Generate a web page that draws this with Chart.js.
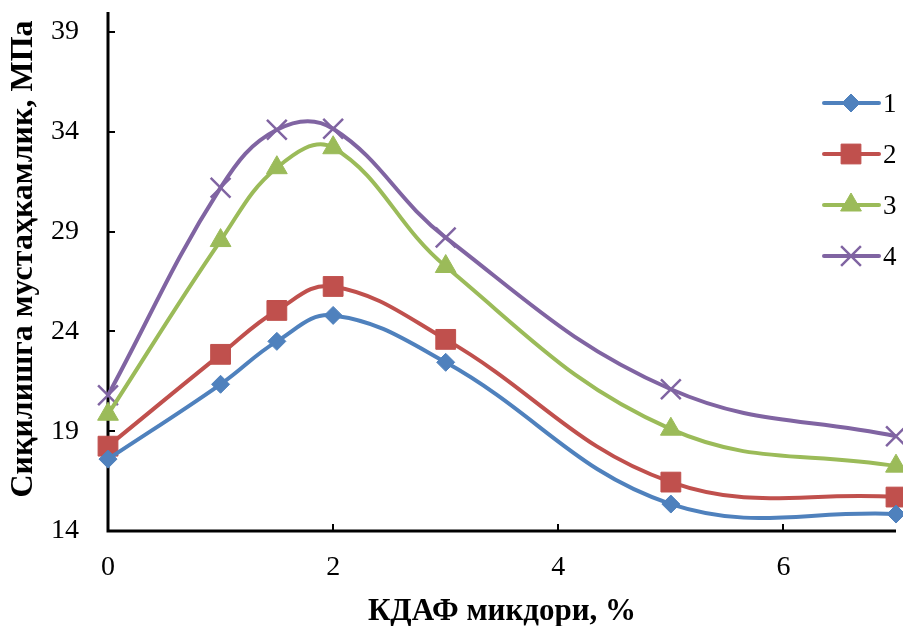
<!DOCTYPE html>
<html>
<head>
<meta charset="utf-8">
<script src="https://cdn.jsdelivr.net/npm/chart.js@4/dist/chart.umd.min.js"></script>
<style>
  html, body { margin: 0; padding: 0; background: #fff; }
  #wrap { width: 903px; height: 626px; }
</style>
</head>
<body>
<div id="wrap"><canvas id="chart" width="903" height="626"></canvas></div>
<script>
'use strict';

// data
let xValues = [0, 1, 1.5, 2, 3, 5, 7];
let series1 = [17.6, 21.35, 23.5, 24.8, 22.45, 15.35, 14.85];
let series2 = [18.25, 22.85, 25.05, 26.25, 23.6, 16.45, 15.7];
let series3 = [19.85, 28.55, 32.2, 33.2, 27.25, 19.1, 17.25];
let series4 = [20.8, 31.2, 34.1, 34.15, 28.7, 21.1, 18.75];
let seriesNames = ['1', '2', '3', '4'];
let yTicks = [14, 19, 24, 29, 34, 39];
let xTicks = [0, 2, 4, 6];
let xTitle = 'КДАФ микдори, %';
let yTitle = 'Сиқилишга мустаҳкамлик, МПа';

let serif = '"Liberation Serif", "Times New Roman", serif';

function makePoints(values){
    let pts = [];
    for (let i = 0; i < xValues.length; i++){
        pts.push({x: xValues[i], y: values[i]});
    }
    return pts;
}

function makeSet(label, values, color, style, radius){
    return {
        label: label,
        data: makePoints(values),
        borderColor: color,
        backgroundColor: color,
        pointBackgroundColor: color,
        pointBorderColor: color,
        borderWidth: 4,
        pointStyle: style,
        pointRadius: radius,
        pointBorderWidth: style === 'crossRot' ? 2.5 : 1,
        tension: 0.4,
        fill: false,
        clip: false
    };
}

let datasets = [
    makeSet(seriesNames[0], series1, '#4F81BD', 'rectRot', 9),
    makeSet(seriesNames[1], series2, '#C0504D', 'rect', 14),
    makeSet(seriesNames[2], series3, '#9BBB59', 'triangle', 12),
    makeSet(seriesNames[3], series4, '#8064A2', 'crossRot', 14)
];

// axis lines, inward ticks and the y title
let axisDecor = {
    id: 'axisDecor',
    beforeDatasetsDraw(chart){
        let ctx = chart.ctx;
        let xs = chart.scales.x;
        let ys = chart.scales.y;
        let area = chart.chartArea;
        ctx.save();
        ctx.strokeStyle = '#000';
        ctx.lineWidth = 3;
        ctx.beginPath();
        ctx.moveTo(area.left, area.top);
        ctx.lineTo(area.left, area.bottom);
        ctx.lineTo(area.right, area.bottom);
        ctx.stroke();
        ctx.lineWidth = 2;
        ys.ticks.forEach(function(t){
            let py = Math.round(ys.getPixelForValue(t.value));
            ctx.beginPath();
            ctx.moveTo(area.left, py);
            ctx.lineTo(area.left + 7, py);
            ctx.stroke();
        });
        xs.ticks.forEach(function(t){
            let px = Math.round(xs.getPixelForValue(t.value));
            ctx.beginPath();
            ctx.moveTo(px, area.bottom);
            ctx.lineTo(px, area.bottom - 7);
            ctx.stroke();
        });

        ctx.translate(24, 259);
        ctx.rotate(-Math.PI / 2);
        ctx.fillStyle = '#000';
        ctx.font = 'bold 32px ' + serif;
        ctx.textAlign = 'center';
        ctx.textBaseline = 'middle';
        ctx.fillText(yTitle, 0, 0);
        ctx.restore();
    }
};

// legend with line + marker, inside the plot on the right
let lineLegend = {
    id: 'lineLegend',
    afterDraw(chart){
        let ctx = chart.ctx;
        ctx.save();
        chart.data.datasets.forEach(function(ds, i){
            let y = 103 + i * 51;
            ctx.strokeStyle = ds.borderColor;
            ctx.lineWidth = 4;
            ctx.lineCap = 'round';
            ctx.beginPath();
            ctx.moveTo(824, y);
            ctx.lineTo(879, y);
            ctx.stroke();
            ctx.lineCap = 'butt';
            ctx.fillStyle = ds.borderColor;
            ctx.lineWidth = ds.pointBorderWidth;
            Chart.helpers.drawPoint(ctx, {
                pointStyle: ds.pointStyle,
                radius: ds.pointRadius,
                borderWidth: ds.pointBorderWidth,
                rotation: 0
            }, 851, y);
            ctx.fillStyle = '#000';
            ctx.font = '27px ' + serif;
            ctx.textBaseline = 'middle';
            ctx.textAlign = 'left';
            ctx.fillText(ds.label, 883, y + 2);
        });
        ctx.restore();
    }
};

let ctx = document.getElementById('chart').getContext('2d');

let chart = new Chart(ctx, {
    type: 'line',
    data: { datasets: datasets },
    plugins: [axisDecor, lineLegend],
    options: {
        responsive: false,
        animation: false,
        layout: { autoPadding: false, padding: { top: 12, right: 7, left: 0, bottom: 0 } },
        plugins: {
            legend: { display: false },
            tooltip: { enabled: false }
        },
        scales: {
            x: {
                type: 'linear',
                min: 0,
                max: 7,
                afterBuildTicks(scale){
                    scale.ticks = xTicks.map(function(v){ return {value: v}; });
                },
                afterFit(scale){
                    scale.height = 95;
                    scale.paddingLeft = 0;
                    scale.paddingRight = 0;
                },
                grid: { display: false, drawTicks: false },
                border: { display: false },
                ticks: {
                    color: '#000',
                    padding: 20,
                    font: { family: serif, size: 28 }
                },
                title: {
                    display: true,
                    text: xTitle,
                    color: '#000',
                    padding: { top: 0, bottom: -5 },
                    font: { family: serif, size: 31, weight: 'bold' }
                }
            },
            y: {
                type: 'linear',
                min: 14,
                max: 40,
                afterBuildTicks(scale){
                    scale.ticks = yTicks.map(function(v){ return {value: v}; });
                },
                afterFit(scale){
                    scale.width = 108;
                    scale.paddingTop = 0;
                    scale.paddingBottom = 0;
                },
                grid: { display: false, drawTicks: false },
                border: { display: false },
                ticks: {
                    color: '#000',
                    padding: 29,
                    font: { family: serif, size: 28 }
                },
                title: { display: false }
            }
        }
    }
});
</script>
</body>
</html>
